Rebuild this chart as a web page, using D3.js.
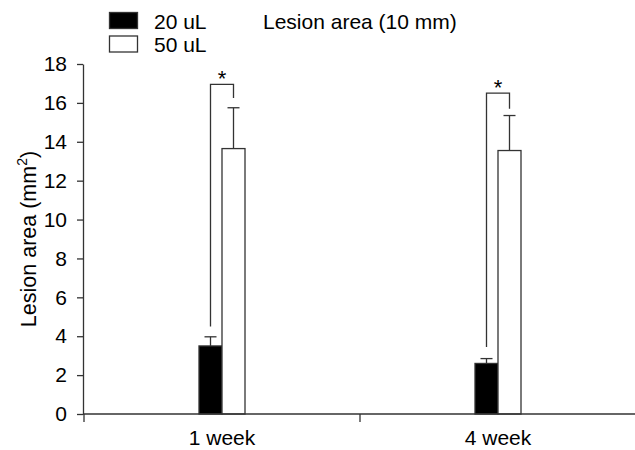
<!DOCTYPE html>
<html>
<meta charset="utf-8">
<style>
  body { margin: 0; background: #fff; }
  text { font-family: "Liberation Sans", Arial, sans-serif; fill: #000; }
</style>
<body>
<script src="https://d3js.org/d3.v7.min.js"></script>
<script>

// data
var weeks = ["1 week", "4 week"];
var series = ["20 uL", "50 uL"];
var means20 = [3.5, 2.6];
var means50 = [13.65, 13.55];
var errs20 = [0.47, 0.25];
var errs50 = [2.1, 1.8];
// significance bracket: top, left leg bottom, right leg bottom
var bracketTop = [16.95, 16.5];
var bracketLeft = [4.5, 3.45];
var bracketRight = [16.25, 15.7];
var yTicks = [0, 2, 4, 6, 8, 10, 12, 14, 16, 18];

var width = 635, height = 450;
var axisColor = "#333";
var fs = "21px";

var svg = d3.select("body").append("svg")
  .attr("width", width)
  .attr("height", height);

var x = d3.scaleBand().domain(weeks).range([84, 636]).padding(0);
var sub = d3.scaleBand().domain(series)
  .range([x.bandwidth() / 2 - 23, x.bandwidth() / 2 + 23]).padding(0);
var y = d3.scaleLinear().domain([0, 18]).range([414, 64]);

var rows = weeks.map(function(w, i) {
  return [
    {week: w, s: series[0], v: means20[i], e: errs20[i], fill: "#000"},
    {week: w, s: series[1], v: means50[i], e: errs50[i], fill: "#fff"}
  ];
});

// error bars (upper only), drawn first so bars cover the stem
rows.forEach(function(r) {
  r.forEach(function(d) {
    var cx = x(d.week) + sub(d.s) + sub.bandwidth() / 2;
    svg.append("line")
      .attr("x1", cx).attr("x2", cx)
      .attr("y1", y(d.v)).attr("y2", y(d.v + d.e))
      .attr("stroke", axisColor).attr("stroke-width", 1.3);
    svg.append("line")
      .attr("x1", cx - 6).attr("x2", cx + 6)
      .attr("y1", y(d.v + d.e)).attr("y2", y(d.v + d.e))
      .attr("stroke", axisColor).attr("stroke-width", 1.3);
  });
});

// bars
svg.append("g").selectAll("rect")
  .data(d3.merge(rows))
  .enter().append("rect")
  .attr("x", function(d) { return x(d.week) + sub(d.s); })
  .attr("y", function(d) { return y(d.v); })
  .attr("width", sub.bandwidth())
  .attr("height", function(d) { return y(0) - y(d.v); })
  .style("fill", function(d) { return d.fill; })
  .style("stroke", axisColor)
  .style("stroke-width", 1.3);

// significance brackets
weeks.forEach(function(w, i) {
  var xl = x(w) + sub(series[0]) + sub.bandwidth() / 2;
  var xr = x(w) + sub(series[1]) + sub.bandwidth() / 2;
  svg.append("path")
    .attr("d", "M" + xl + "," + y(bracketLeft[i]) + "V" + y(bracketTop[i]) +
               "H" + xr + "V" + y(bracketRight[i]))
    .attr("fill", "none")
    .attr("stroke", axisColor)
    .attr("stroke-width", 1.3);
  svg.append("text")
    .attr("x", (xl + xr) / 2)
    .attr("y", y(bracketTop[i]) + 2)
    .attr("text-anchor", "middle")
    .style("font-size", "22px")
    .text("*");
});

// y axis
var yAxis = svg.append("g")
  .attr("transform", "translate(83,0)")
  .call(d3.axisLeft(y).tickValues(yTicks).tickSize(6).tickPadding(10).tickSizeOuter(0));
yAxis.selectAll("text").style("font-size", fs);
yAxis.selectAll("line, path").attr("stroke", axisColor).attr("stroke-width", 1.3);

// x axis, ticks between categories
var xAxis = svg.append("g")
  .attr("transform", "translate(0,414)");
xAxis.append("line")
  .attr("x1", 83).attr("x2", 636)
  .attr("stroke", axisColor).attr("stroke-width", 1.3);
xAxis.selectAll("line.tk")
  .data(weeks)
  .enter().append("line")
  .attr("class", "tk")
  .attr("x1", function(d) { return x(d); })
  .attr("x2", function(d) { return x(d); })
  .attr("y1", 0).attr("y2", 8)
  .attr("stroke", axisColor).attr("stroke-width", 1.3);
xAxis.selectAll("text")
  .data(weeks)
  .enter().append("text")
  .attr("x", function(d) { return x(d) + x.bandwidth() / 2; })
  .attr("y", 31)
  .attr("text-anchor", "middle")
  .style("font-size", fs)
  .text(function(d) { return d; });

// y axis title
var yt = svg.append("text")
  .attr("transform", "translate(36,239) rotate(-90)")
  .attr("text-anchor", "middle")
  .style("font-size", "21.5px");
yt.append("tspan").text("Lesion area (mm");
yt.append("tspan").attr("dy", -9).style("font-size", "14px").text("2");
yt.append("tspan").attr("dy", 9).text(")");

// legend
var legend = svg.append("g");
series.forEach(function(s, i) {
  legend.append("rect")
    .attr("x", 109.5).attr("y", 12.5 + i * 23.5)
    .attr("width", 28).attr("height", 16)
    .style("fill", i === 0 ? "#000" : "#fff")
    .style("stroke", axisColor).style("stroke-width", 1.3);
  legend.append("text")
    .attr("x", 154).attr("y", 28.5 + i * 23.5)
    .style("font-size", fs)
    .text(s);
});
legend.append("text")
  .attr("x", 263).attr("y", 28.5)
  .style("font-size", fs)
  .text("Lesion area (10 mm)");

</script>
</body>
</html>
